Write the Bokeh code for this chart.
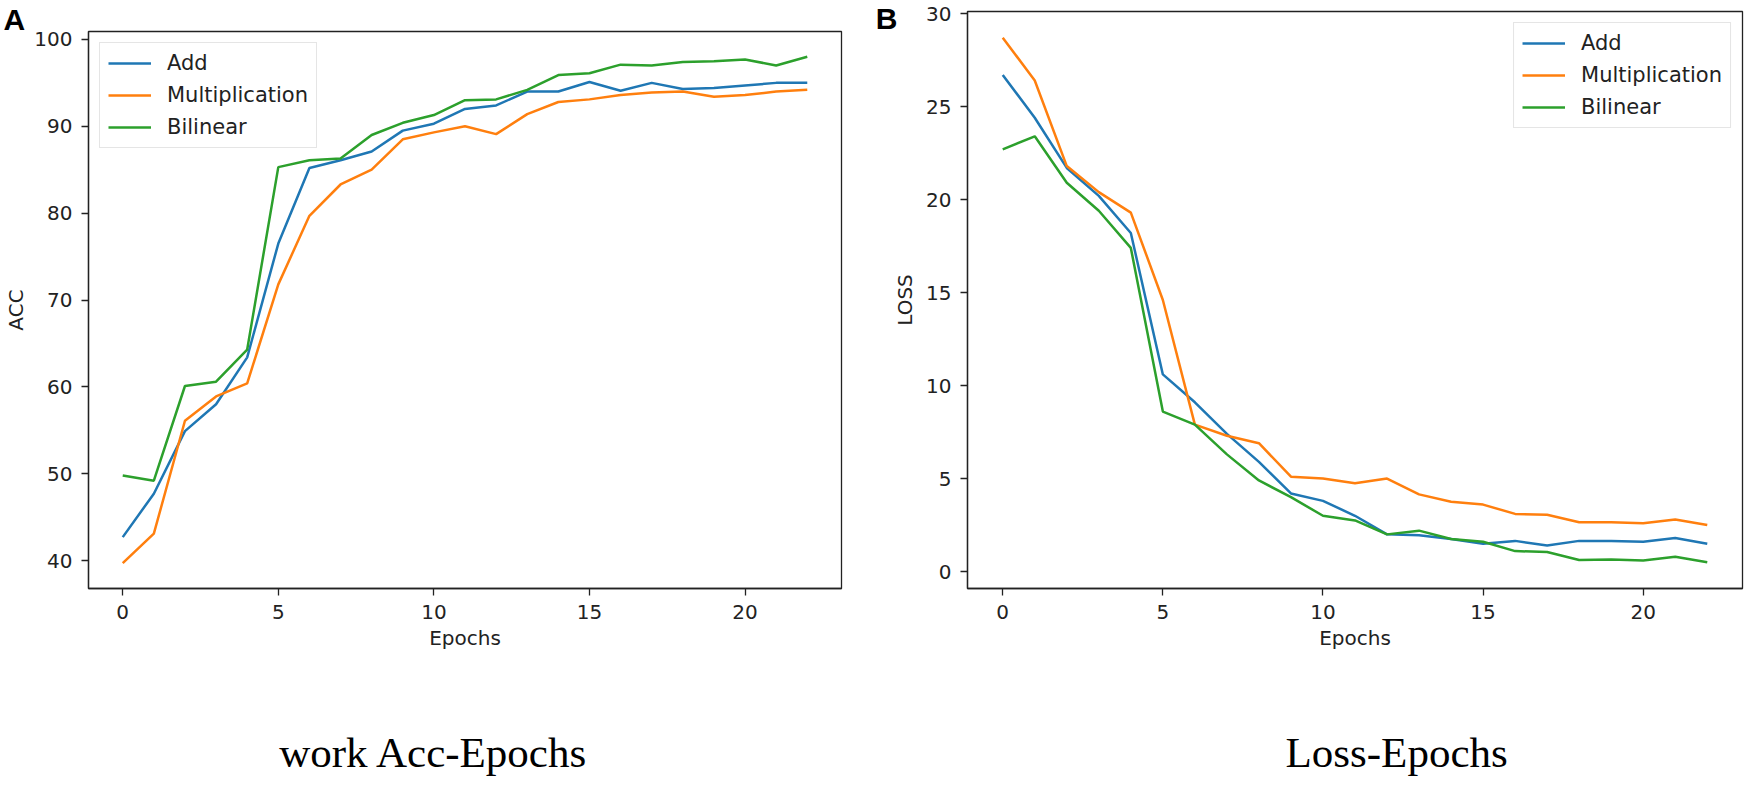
from bokeh.plotting import figure
from bokeh.models import (FixedTicker, Legend, LegendItem, Range1d, Title,
                          LinearAxis, CustomJSTickFormatter)
from bokeh.layouts import row, column
from bokeh.embed import file_html
from bokeh.resources import INLINE

epochs = list(range(23))

acc_add = [42.7, 47.7, 54.9, 58.0, 63.4, 76.5, 85.2, 86.1, 87.1, 89.5, 90.3, 92.0,
           92.4, 94.0, 94.0, 95.1, 94.1, 95.0, 94.3, 94.4, 94.7, 95.0, 95.0]
acc_mul = [39.7, 43.1, 56.1, 58.9, 60.4, 71.8, 79.7, 83.3, 85.0, 88.5, 89.3, 90.0,
           89.1, 91.4, 92.8, 93.1, 93.6, 93.9, 94.0, 93.4, 93.6, 94.0, 94.2]
acc_bil = [49.8, 49.2, 60.1, 60.6, 64.3, 85.3, 86.1, 86.3, 89.0, 90.4, 91.3, 93.0,
           93.1, 94.2, 95.9, 96.1, 97.1, 97.0, 97.4, 97.5, 97.7, 97.0, 98.0]

loss_add = [26.7, 24.4, 21.7, 20.2, 18.2, 10.6, 9.1, 7.4, 5.9, 4.2, 3.8, 3.0,
            2.0, 1.95, 1.75, 1.5, 1.65, 1.4, 1.65, 1.65, 1.6, 1.8, 1.5]
loss_mul = [28.7, 26.4, 21.8, 20.4, 19.3, 14.6, 7.9, 7.3, 6.9, 5.1, 5.0, 4.75,
            5.0, 4.15, 3.75, 3.6, 3.1, 3.05, 2.65, 2.65, 2.6, 2.8, 2.5]
loss_bil = [22.7, 23.4, 20.9, 19.4, 17.4, 8.6, 7.9, 6.3, 4.9, 4.0, 3.0, 2.75,
            2.0, 2.2, 1.75, 1.6, 1.1, 1.05, 0.62, 0.65, 0.6, 0.8, 0.5]

series_names = ["Add", "Multiplication", "Bilinear"]
colors = ["#1f77b4", "#ff7f0e", "#2ca02c"]
x_ticks = [0, 5, 10, 15, 20]
acc_ticks = [40, 50, 60, 70, 80, 90, 100]
loss_ticks = [0, 5, 10, 15, 20, 25, 30]
caption_a = "work Acc-Epochs"
caption_b = "Loss-Epochs"

FONT = "DejaVu Sans"
INK = "#222222"


def padded(vals, frac=0.05):
    lo, hi = min(vals), max(vals)
    pad = (hi - lo) * frac
    return lo - pad, hi + pad


def make_fig(series, yticks, ylabel, frame_w, frame_h, borders, legend_loc):
    xlo, xhi = padded(epochs)
    ylo, yhi = padded([v for s in series for v in s])
    p = figure(frame_width=frame_w, frame_height=frame_h, title=None,
               x_range=Range1d(xlo, xhi), y_range=Range1d(ylo, yhi),
               output_backend="svg", toolbar_location=None,
               min_border_left=borders[0], min_border_right=borders[1],
               min_border_top=borders[2], min_border_bottom=borders[3])
    p.xgrid.visible = False
    p.ygrid.visible = False
    p.outline_line_color = INK
    p.outline_line_width = 1.3
    p.background_fill_color = "white"
    p.border_fill_color = "white"
    items = []
    for name, s, c in zip(series_names, series, colors):
        r = p.line(epochs, s, line_color=c, line_width=2.5)
        items.append(LegendItem(label=name, renderers=[r]))
    for ax in (p.xaxis[0], p.yaxis[0]):
        ax.major_label_text_font = FONT
        ax.major_label_text_font_size = "20px"
        ax.major_label_text_color = INK
        ax.axis_label_text_font = FONT
        ax.axis_label_text_font_size = "20px"
        ax.axis_label_text_font_style = "normal"
        ax.axis_label_text_color = INK
        ax.minor_tick_line_color = None
        ax.major_tick_in = 0
        ax.major_tick_out = 7
        ax.major_tick_line_width = 1.3
        ax.major_tick_line_color = INK
        ax.axis_line_color = INK
        ax.axis_line_width = 1.3
        ax.major_label_standoff = 9
    p.xaxis[0].ticker = FixedTicker(ticks=x_ticks)
    p.yaxis[0].ticker = FixedTicker(ticks=yticks)
    p.xaxis[0].axis_label = "Epochs"
    p.yaxis[0].axis_label = ylabel
    p.xaxis[0].axis_label_standoff = 4
    leg = Legend(items=items, location=legend_loc)
    leg.label_text_font = FONT
    leg.label_text_font_size = "21px"
    leg.label_text_color = INK
    leg.glyph_width = 43
    leg.glyph_height = 20
    leg.label_height = 20
    leg.spacing = 8
    leg.padding = 8
    leg.margin = 11
    leg.label_standoff = 16
    leg.border_line_color = "#cccccc"
    leg.border_line_width = 1.3
    leg.background_fill_alpha = 0.85
    p.add_layout(leg, "center")
    return p


def text_axis(tick, text, font, size, style, standoff):
    ax = LinearAxis(ticker=FixedTicker(ticks=[tick]),
                    formatter=CustomJSTickFormatter(code="return %r" % text))
    ax.major_label_text_font = font
    ax.major_label_text_font_size = size
    ax.major_label_text_font_style = style
    ax.major_label_text_color = "black"
    ax.major_label_standoff = standoff
    ax.major_tick_in = 0
    ax.major_tick_out = 0
    ax.major_tick_line_color = None
    ax.minor_tick_line_color = None
    ax.axis_line_color = None
    return ax


pA = make_fig([acc_add, acc_mul, acc_bil], acc_ticks, "ACC", 753, 557,
              (88, 19, 31, 198), "top_left")
pA.yaxis[0].axis_label_standoff = 3
pB = make_fig([loss_add, loss_mul, loss_bil], loss_ticks, "LOSS", 775, 577,
              (107, 8, 11, 198), "top_right")
pB.yaxis[0].axis_label_standoff = 6

# panel letter "A" above the left chart
pA.add_layout(Title(text="A", align="left", offset=-85, standoff=-8,
                    text_font="Liberation Sans", text_font_style="bold",
                    text_font_size="30px", text_color="black"), "above")

# panel letter "B" left of the right chart, near its top edge
b_ylo, b_yhi = pB.y_range.start, pB.y_range.end
b_letter_y = b_yhi - 6.7 * (b_yhi - b_ylo) / 577
pB.add_layout(text_axis(b_letter_y, "B", "Liberation Sans", "30px", "bold", -7), "left")

# captions under each chart
pA.add_layout(text_axis(10.0, caption_a, "Liberation Serif", "43px", "normal", 76), "below")
pB.add_layout(text_axis(12.3, caption_b, "Liberation Serif", "43px", "normal", 76), "below")

layout = row(column(pA), column(pB))
open("out.html", "w").write(file_html(layout, INLINE))
